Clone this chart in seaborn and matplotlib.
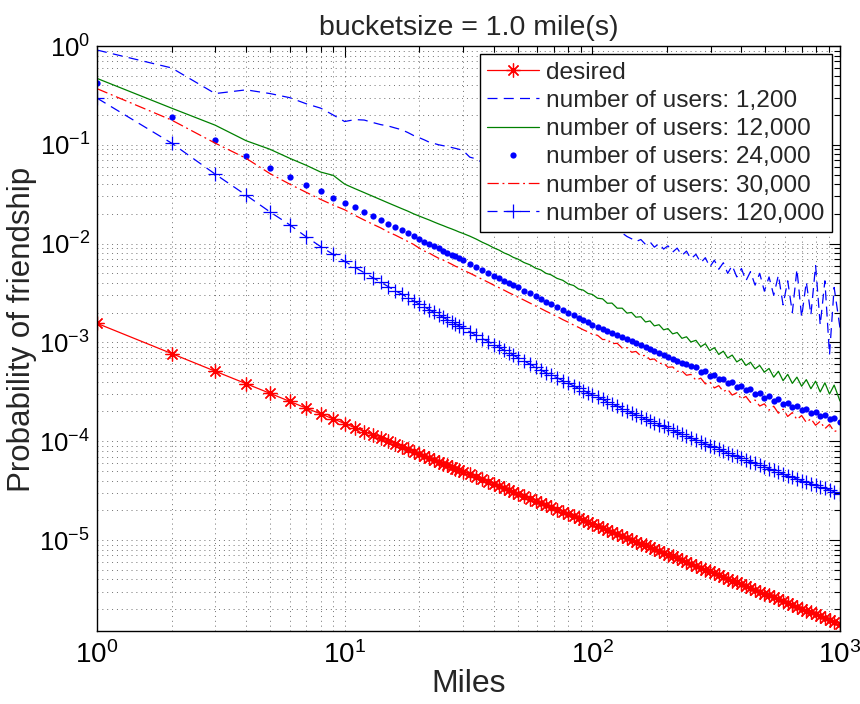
import matplotlib
matplotlib.use("Agg")
import matplotlib.pyplot as plt
import seaborn as sns
from matplotlib.lines import Line2D
from matplotlib.ticker import LogLocator, NullFormatter

# ---------------- data ----------------
miles = (list(range(1, 31))
         + [32, 34, 36, 38, 40, 42, 44, 46, 48, 50]
         + [53, 56, 59, 62, 65, 68, 72, 76, 80, 84, 88, 92, 96, 100]
         + [105, 110, 115, 120, 126, 132, 138, 144, 150, 157, 164, 171, 178, 186, 194, 202, 211, 220, 230, 240, 250]
         + [262, 274, 286, 298, 311, 324, 338, 352, 367, 383, 400, 417, 435, 454, 474, 495]
         + [517, 540, 564, 589, 615, 642, 670, 700, 731, 763, 797, 832, 869, 907, 947, 1000])

desired = [1.56e-3, 7.72e-4, 5.11e-4, 3.82e-4, 3.05e-4, 2.53e-4, 2.16e-4, 1.89e-4, 1.68e-4, 1.51e-4,
           1.37e-4, 1.25e-4, 1.15e-4, 1.07e-4, 9.97e-5, 9.34e-5, 8.78e-5, 8.28e-5, 7.84e-5, 7.44e-5,
           7.08e-5, 6.75e-5, 6.46e-5, 6.18e-5, 5.93e-5, 5.70e-5, 5.49e-5, 5.29e-5, 5.10e-5, 4.93e-5,
           4.62e-5, 4.34e-5, 4.10e-5, 3.88e-5, 3.69e-5, 3.51e-5, 3.35e-5, 3.20e-5, 3.06e-5, 2.94e-5,
           2.77e-5, 2.62e-5, 2.49e-5, 2.36e-5, 2.26e-5, 2.15e-5, 2.03e-5, 1.93e-5, 1.83e-5, 1.74e-5,
           1.66e-5, 1.59e-5, 1.52e-5, 1.46e-5,
           1.39e-5, 1.32e-5, 1.26e-5, 1.21e-5, 1.15e-5, 1.10e-5, 1.05e-5, 1.01e-5, 9.65e-6, 9.22e-6,
           8.82e-6, 8.45e-6, 8.11e-6, 7.76e-6, 7.43e-6, 7.13e-6, 6.82e-6, 6.54e-6, 6.26e-6, 5.99e-6, 5.75e-6,
           5.48e-6, 5.24e-6, 5.01e-6, 4.81e-6, 4.60e-6, 4.42e-6, 4.23e-6, 4.06e-6, 3.89e-6, 3.73e-6,
           3.57e-6, 3.42e-6, 3.28e-6, 3.14e-6, 3.00e-6, 2.87e-6,
           2.75e-6, 2.63e-6, 2.52e-6, 2.41e-6, 2.30e-6, 2.21e-6, 2.11e-6, 2.02e-6, 1.93e-6, 1.85e-6,
           1.77e-6, 1.69e-6, 1.62e-6, 1.55e-6, 1.49e-6, 1.41e-6]

users_1200 = [0.91, 0.60, 0.33, 0.36, 0.33, 0.30, 0.26, 0.235, 0.20, 0.172,
              0.18, 0.178, 0.168, 0.16, 0.155, 0.148, 0.142, 0.133, 0.124, 0.118,
              0.112, 0.106, 0.103, 0.100, 0.098, 0.096, 0.094, 0.092, 0.090, 0.088,
              0.075, 0.072, 0.066, 0.062, 0.058, 0.055, 0.052, 0.050, 0.047, 0.045,
              0.042, 0.040, 0.037, 0.035, 0.033, 0.031, 0.029, 0.027, 0.025, 0.024, 0.022, 0.021, 0.020, 0.019,
              0.018, 0.017, 0.016, 0.0148, 0.0140, 0.0128, 0.0118, 0.0112, 0.0105, 0.0110,
              0.0098, 0.0104, 0.0092, 0.0100, 0.0088, 0.0095, 0.0082, 0.0090, 0.0076, 0.0084, 0.0070,
              0.0078, 0.0064, 0.0072, 0.0058, 0.0068, 0.0055, 0.0064, 0.0050, 0.0060, 0.0046,
              0.0056, 0.0042, 0.0052, 0.0038, 0.0050, 0.0033,
              0.0046, 0.0030, 0.0048, 0.0024, 0.0042, 0.0020, 0.0055, 0.0018, 0.0041, 0.0019,
              0.0060, 0.0015, 0.0042, 0.00075, 0.0036, 0.0014]

users_12000 = [0.47, 0.235, 0.158, 0.11, 0.09, 0.073, 0.062, 0.053, 0.049, 0.040,
               0.0360, 0.0328, 0.0301, 0.0278, 0.0258, 0.0241, 0.0226, 0.0213, 0.0200, 0.0190,
               0.0181, 0.0173, 0.0165, 0.0158, 0.0152, 0.0146, 0.0141, 0.0136, 0.0131, 0.0127,
               0.0119, 0.0111, 0.0103, 9.70e-3, 9.05e-3, 8.60e-3, 8.05e-3, 7.70e-3, 7.25e-3, 6.98e-3,
               6.43e-3, 6.10e-3, 5.64e-3, 5.41e-3, 5.00e-3, 4.84e-3, 4.45e-3, 4.25e-3, 3.90e-3, 3.77e-3,
               3.47e-3, 3.38e-3, 3.13e-3, 3.06e-3,
               2.80e-3, 2.76e-3, 2.49e-3, 2.50e-3, 2.22e-3, 2.22e-3, 1.98e-3, 2.01e-3, 1.80e-3, 1.82e-3,
               1.61e-3, 1.65e-3, 1.47e-3, 1.51e-3, 1.34e-3, 1.38e-3, 1.22e-3, 1.26e-3, 1.10e-3, 1.14e-3, 1.01e-3,
               1.05e-3, 9.05e-4, 9.70e-4, 8.25e-4, 8.85e-4, 7.55e-4, 8.15e-4, 6.95e-4, 7.45e-4, 6.35e-4,
               6.80e-4, 5.85e-4, 6.30e-4, 5.40e-4, 5.85e-4, 5.00e-4,
               5.45e-4, 4.45e-4, 5.10e-4, 4.10e-4, 4.75e-4, 3.85e-4, 4.45e-4, 3.60e-4, 4.20e-4, 3.40e-4,
               4.05e-4, 3.15e-4, 3.90e-4, 3.00e-4, 3.70e-4, 2.55e-4]

users_24000 = [0.42, 0.19, 0.112, 0.077, 0.058, 0.047, 0.039, 0.034, 0.029, 0.026,
               0.0232, 0.0208, 0.0189, 0.0173, 0.0158, 0.0147, 0.0136, 0.0127, 0.0119, 0.0112,
               0.0105, 9.95e-3, 9.40e-3, 8.93e-3, 8.49e-3, 8.11e-3, 7.74e-3, 7.41e-3, 7.10e-3, 6.81e-3,
               6.29e-3, 5.83e-3, 5.43e-3, 5.07e-3, 4.75e-3, 4.48e-3, 4.23e-3, 3.99e-3, 3.79e-3, 3.60e-3,
               3.35e-3, 3.13e-3, 2.92e-3, 2.75e-3, 2.59e-3, 2.45e-3, 2.29e-3, 2.13e-3, 2.00e-3, 1.88e-3,
               1.78e-3, 1.68e-3, 1.60e-3, 1.51e-3,
               1.44e-3, 1.37e-3, 1.30e-3, 1.25e-3, 1.19e-3, 1.13e-3, 1.08e-3, 1.03e-3, 9.85e-4, 9.38e-4,
               8.95e-4, 8.57e-4, 8.22e-4, 7.83e-4, 7.50e-4, 7.19e-4, 6.87e-4, 6.56e-4, 6.25e-4, 5.98e-4, 5.73e-4,
               5.60e-4, 5.05e-4, 5.10e-4, 4.62e-4, 4.66e-4, 4.22e-4, 4.30e-4, 3.88e-4, 3.96e-4, 3.57e-4,
               3.63e-4, 3.28e-4, 3.34e-4, 3.01e-4, 3.07e-4, 2.76e-4,
               2.84e-4, 2.56e-4, 2.65e-4, 2.38e-4, 2.46e-4, 2.21e-4, 2.29e-4, 2.06e-4, 2.14e-4, 1.91e-4,
               1.99e-4, 1.78e-4, 1.86e-4, 1.66e-4, 1.73e-4, 1.55e-4]

users_30000 = [0.37, 0.178, 0.104, 0.073, 0.051, 0.040, 0.033, 0.028, 0.0245, 0.022,
               0.0193, 0.0173, 0.0157, 0.0144, 0.0131, 0.0122, 0.0113, 0.0105, 0.0098, 0.0090,
               0.0084, 0.0080, 0.0075, 0.0071, 0.0068, 0.0065, 0.0062, 0.0059, 0.0057, 0.0054,
               5.03e-3, 4.66e-3, 4.34e-3, 4.06e-3, 3.80e-3, 3.58e-3, 3.38e-3, 3.19e-3, 3.03e-3, 2.88e-3,
               2.68e-3, 2.50e-3, 2.34e-3, 2.20e-3, 2.07e-3, 1.96e-3, 1.83e-3, 1.70e-3, 1.60e-3, 1.50e-3,
               1.42e-3, 1.34e-3, 1.28e-3, 1.21e-3,
               1.18e-3, 1.07e-3, 1.07e-3, 9.7e-4, 9.8e-4, 8.75e-4, 8.85e-4, 7.95e-4, 8.1e-4, 7.3e-4,
               7.4e-4, 6.7e-4, 6.8e-4, 6.1e-4, 6.2e-4, 5.6e-4, 5.65e-4, 5.1e-4, 5.15e-4, 4.65e-4, 4.75e-4,
               4.15e-4, 4.35e-4, 3.80e-4, 3.98e-4, 3.46e-4, 3.65e-4, 3.18e-4, 3.35e-4, 2.93e-4, 3.09e-4,
               2.68e-4, 2.84e-4, 2.47e-4, 2.61e-4, 2.27e-4, 2.39e-4,
               2.06e-4, 2.26e-4, 1.92e-4, 2.11e-4, 1.78e-4, 1.95e-4, 1.66e-4, 1.82e-4, 1.55e-4, 1.69e-4,
               1.45e-4, 1.59e-4, 1.34e-4, 1.48e-4, 1.25e-4, 1.32e-4]

users_120000 = [0.297, 0.104, 0.0505, 0.0309, 0.0209, 0.0155, 0.0117, 0.00933, 0.00776, 0.00661,
                5.75e-3, 5.07e-3, 4.52e-3, 4.06e-3, 3.67e-3, 3.34e-3, 3.08e-3, 2.84e-3, 2.62e-3, 2.45e-3,
                2.29e-3, 2.14e-3, 2.01e-3, 1.90e-3, 1.79e-3, 1.70e-3, 1.61e-3, 1.54e-3, 1.47e-3, 1.40e-3,
                1.28e-3, 1.18e-3, 1.09e-3, 1.02e-3, 9.49e-4, 8.89e-4, 8.36e-4, 7.85e-4, 7.43e-4, 7.02e-4,
                6.50e-4, 6.03e-4, 5.61e-4, 5.26e-4, 4.94e-4, 4.68e-4, 4.39e-4, 4.10e-4, 3.85e-4, 3.64e-4,
                3.44e-4, 3.26e-4, 3.10e-4, 2.95e-4,
                2.79e-4, 2.65e-4, 2.51e-4, 2.39e-4, 2.26e-4, 2.14e-4, 2.04e-4, 1.94e-4, 1.85e-4, 1.76e-4,
                1.67e-4, 1.60e-4, 1.54e-4, 1.47e-4, 1.41e-4, 1.35e-4, 1.29e-4, 1.23e-4, 1.17e-4, 1.12e-4, 1.08e-4,
                1.03e-4, 9.82e-5, 9.42e-5, 9.04e-5, 8.65e-5, 8.30e-5, 7.96e-5, 7.64e-5, 7.33e-5, 7.03e-5,
                6.73e-5, 6.47e-5, 6.22e-5, 5.97e-5, 5.73e-5, 5.50e-5,
                5.28e-5, 5.07e-5, 4.86e-5, 4.66e-5, 4.47e-5, 4.30e-5, 4.15e-5, 4.00e-5, 3.85e-5, 3.71e-5,
                3.58e-5, 3.45e-5, 3.33e-5, 3.21e-5, 3.09e-5, 2.95e-5]

labels = ["desired", "number of users: 1,200", "number of users: 12,000",
          "number of users: 24,000", "number of users: 30,000", "number of users: 120,000"]
x_ticks = [1, 10, 100, 1000]
y_ticks = [1e-5, 1e-4, 1e-3, 1e-2, 1e-1, 1]

# ---------------- style ----------------
sns.set_theme(style="white")
plt.rcParams['font.family'] = ['Liberation Sans', 'DejaVu Sans']
plt.rcParams['mathtext.fontset'] = 'custom'
plt.rcParams['mathtext.rm'] = 'Liberation Sans'
plt.rcParams['mathtext.it'] = 'Liberation Sans'
plt.rcParams['mathtext.bf'] = 'Liberation Sans'

RED = (1, 0, 0)
BLUE = (0, 0, 1)
GREEN = (0, 0.5, 0)
ASTER = (8, 2, 0)

fig = plt.figure(figsize=(8.6, 7.04), dpi=100)
ax = fig.add_axes([97 / 860, 1 - 631 / 704, (840 - 97) / 860, (631 - 46) / 704])

common = dict(ax=ax, errorbar=None, estimator=None, sort=False, legend=False)
lw = 0.9
DASH = (0, (8, 5))
DASHDOT = (0, (9, 3, 1.5, 3))

sns.lineplot(x=miles, y=desired, color=RED, linestyle='-', linewidth=lw,
             marker=ASTER, markersize=10, markeredgewidth=0.9, markeredgecolor=RED, **common)
sns.lineplot(x=miles, y=users_1200, color=BLUE, linestyle=DASH, linewidth=lw, **common)
sns.lineplot(x=miles, y=users_12000, color=GREEN, linestyle='-', linewidth=lw, **common)
sns.lineplot(x=miles, y=users_24000, color=BLUE, linestyle='None', marker='o', markersize=4.5,
             markeredgewidth=0, markeredgecolor=BLUE, **common)
sns.lineplot(x=miles, y=users_30000, color=RED, linestyle=DASHDOT, linewidth=lw, **common)
sns.lineplot(x=miles, y=users_120000, color=BLUE, linestyle=DASH, linewidth=lw,
             marker='+', markersize=10, markeredgewidth=0.9, markeredgecolor=BLUE, **common)

ax.set_xscale('log')
ax.set_yscale('log')
ax.set_xlim(1, 1000)
ax.set_ylim(1.2e-6, 1)

ax.set_xticks(x_ticks)
ax.set_yticks(y_ticks)
ax.xaxis.set_minor_locator(LogLocator(base=10, subs=range(2, 10), numticks=50))
ax.yaxis.set_minor_locator(LogLocator(base=10, subs=range(2, 10), numticks=50))
ax.xaxis.set_minor_formatter(NullFormatter())
ax.yaxis.set_minor_formatter(NullFormatter())

ax.set_axisbelow(True)
ax.grid(True, which='both', linestyle=(0, (1, 4)), color='0.2', linewidth=0.7, alpha=0.7)
ax.tick_params(which='both', direction='in', top=True, right=True, colors='black', width=0.8)
ax.tick_params(which='major', length=8)
ax.tick_params(which='minor', length=4)
ax.tick_params(axis='x', labelsize=20, pad=7)
ax.tick_params(axis='y', labelsize=18.5, pad=5)
for s in ax.spines.values():
    s.set_color('black')
    s.set_linewidth(1.0)

ax.set_xlabel("Miles", fontsize=23, labelpad=0)
ax.set_ylabel("Probability of friendship", fontsize=22.5)
ax.yaxis.set_label_coords(-0.081, 0.516)
ax.set_title("bucketsize = 1.0 mile(s)", fontsize=20.5, pad=8)

handles = [
    Line2D([], [], color=RED, linestyle='-', linewidth=lw, marker=ASTER, markersize=10,
           markeredgewidth=0.9, markeredgecolor=RED),
    Line2D([], [], color=BLUE, linestyle=DASH, linewidth=lw),
    Line2D([], [], color=GREEN, linestyle='-', linewidth=lw),
    Line2D([], [], color=BLUE, linestyle='None', marker='o', markersize=4.5, markeredgewidth=0),
    Line2D([], [], color=RED, linestyle=DASHDOT, linewidth=lw),
    Line2D([], [], color=BLUE, linestyle=DASH, linewidth=lw, marker='+', markersize=10,
           markeredgewidth=0.9, markeredgecolor=BLUE),
]
leg = ax.legend(handles, labels, loc='upper right', bbox_to_anchor=(0.989, 0.986),
                fontsize=17.6, numpoints=1, handlelength=2.1, handletextpad=0.3,
                labelspacing=0.25, borderpad=0.3, borderaxespad=0, fancybox=False,
                framealpha=1, edgecolor='black')
leg.get_frame().set_linewidth(1.0)

fig.savefig("out.png", dpi=100, facecolor='white')
